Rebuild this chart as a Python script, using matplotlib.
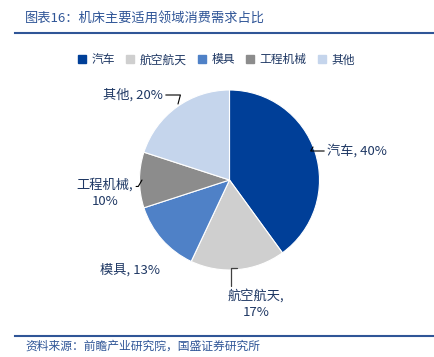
import matplotlib.pyplot as plt
from matplotlib.lines import Line2D

plt.rcParams['font.family'] = ['Noto Sans CJK SC', 'DejaVu Sans']

labels = ['汽车', '航空航天', '模具', '工程机械', '其他']
shares = [40, 17, 13, 10, 20]
colors = ['#003F98', '#CFCFCF', '#4F81C7', '#8C8C8C', '#C5D5EC']
txt = '#1F3864'

fig = plt.figure(figsize=(4.35, 3.57), dpi=100)

# title + rules
fig.text(25 / 435, 1 - 18 / 357, '图表16：机床主要适用领域消费需求占比', fontsize=9.5,
         color='#2F5597', style='italic', va='center', ha='left')
fig.add_artist(Line2D([15 / 435, 1], [1 - 33 / 357] * 2, color='#2F5597', lw=1.5))
fig.add_artist(Line2D([15 / 435, 1], [1 - 336 / 357] * 2, color='#2F5597', lw=1.5))
fig.text(25 / 435, 1 - 346 / 357, '资料来源：前瞻产业研究院，国盛证券研究所', fontsize=8.5,
         color='#2F5597', style='italic', va='center', ha='left')

# pie axes: centre (229.5, 180) px, radius 90 px
cx, cy, r = 229.5, 180, 90
ax = fig.add_axes([(cx - r) / 435, 1 - (cy + r) / 357, 2 * r / 435, 2 * r / 357])
ax.pie(shares, colors=colors, startangle=90, counterclock=False, radius=1,
       wedgeprops=dict(linewidth=0.8, edgecolor='white'))
ax.set_xlim(-1, 1)
ax.set_ylim(-1, 1)
ax.set_aspect('auto')
ax.axis('off')

def px(x, y):
    return ((x - cx) / r, (cy - y) / r)

def lbl(i):
    return f'{labels[i]}, {shares[i]}%'

kw = dict(fontsize=9.5, color=txt, annotation_clip=False)
ax.annotate(lbl(0), xy=px(313, 147), xytext=px(327, 151), va='center', ha='left',
            arrowprops=dict(arrowstyle='-', color='black', lw=0.8,
                            connectionstyle='angle,angleA=0,angleB=60,rad=0',
                            shrinkA=0, shrinkB=0), **kw)
ax.annotate(f'{labels[1]},\n{shares[1]}%', xy=px(237, 268), xytext=px(256, 304),
            va='center', ha='center', linespacing=1.3,
            arrowprops=dict(arrowstyle='-', color='#404040', lw=0.9,
                            connectionstyle='angle,angleA=90,angleB=0,rad=0',
                            relpos=(0.05, 1.0), shrinkA=0, shrinkB=0), **kw)
ax.annotate(lbl(2), xy=px(130, 270), va='center', ha='center', **kw)
ax.annotate(f'{labels[3]},\n{shares[3]}%', xy=px(142, 180), xytext=px(105, 193),
            va='center', ha='center', linespacing=1.3,
            arrowprops=dict(arrowstyle='-', color='black', lw=0.8,
                            connectionstyle='angle,angleA=0,angleB=60,rad=0',
                            relpos=(1.0, 0.72), shrinkA=0, shrinkB=0), **kw)
ax.annotate(lbl(4), xy=px(178, 104), xytext=px(163, 95), va='center', ha='right',
            arrowprops=dict(arrowstyle='-', color='black', lw=0.8,
                            connectionstyle='angle,angleA=0,angleB=75,rad=0',
                            shrinkA=0, shrinkB=0), **kw)

# legend
handles = [Line2D([], [], marker='s', ls='', color=c, markersize=6) for c in colors]
fig.legend(handles, labels, loc='center', bbox_to_anchor=(216 / 435, 1 - 60 / 357),
           ncol=5, frameon=False, fontsize=8.5, handlelength=0.8, handletextpad=0.4,
           columnspacing=0.9, labelcolor=txt)

fig.savefig('out.png', dpi=100)
